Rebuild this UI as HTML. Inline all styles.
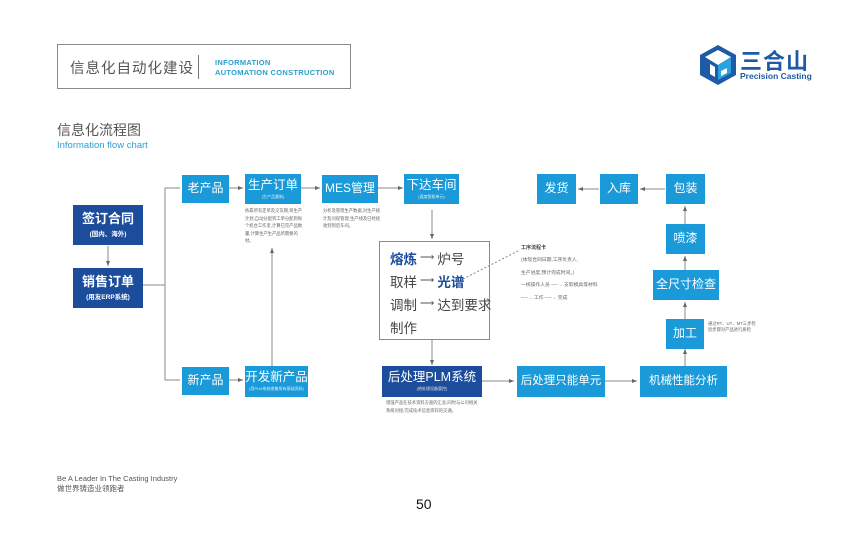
<!DOCTYPE html>
<html><head><meta charset="utf-8">
<style>
*{margin:0;padding:0;box-sizing:border-box}
body{width:850px;height:538px;background:#fff;position:relative;overflow:hidden;font-family:"Liberation Sans","Noto Sans CJK SC",sans-serif}
.a{position:absolute}
.b{position:absolute;background:#1a9ad9;color:#fff;display:flex;flex-direction:column;align-items:center;justify-content:center;text-align:center;line-height:1.1;white-space:nowrap}
.d{background:#1b4d9c}
.s{font-size:4px;opacity:.85;margin-top:2px}
.t{position:absolute;font-size:4.3px;color:#666;line-height:7.5px}
.ln{height:23px;display:flex;align-items:center;white-space:nowrap}
.ar{font-size:10px;color:#555;margin:0 3px}
</style></head><body>
<div class="a" style="left:57px;top:44px;width:294px;height:45px;border:1.5px solid #8a8a8a"></div>
<div class="a" style="left:70px;top:57px;font-size:14.5px;color:#555;letter-spacing:1px">信息化自动化建设</div>
<div class="a" style="left:198px;top:55px;width:1px;height:24px;background:#777"></div>
<div class="a" style="left:215px;top:58px;font-size:7.5px;color:#2a9fcc;font-weight:bold;line-height:10px;letter-spacing:.3px">INFORMATION<br>AUTOMATION CONSTRUCTION</div>

<svg class="a" style="left:698px;top:44px" width="40" height="42" viewBox="0 0 40 42">
<polygon points="20,1 38,11 38,31 20,41 2,31 2,11" fill="#1f5aa6"/>
<polygon points="20,6 33,13 20,21 7,13" fill="#fff"/>
<polygon points="20,21 33,13 33,29 20,36" fill="#29a2de"/>
<polygon points="12,20 17,23 17,33 12,30" fill="#fff"/>
<polygon points="23,27 29,24 29,29 23,32" fill="#fff"/>
</svg>
<div class="a" style="left:740px;top:44px;font-size:22px;color:#1f5aa6;font-weight:bold;letter-spacing:1px">三合山</div>
<div class="a" style="left:740px;top:71px;font-size:8.5px;color:#1f5aa6;font-weight:bold">Precision Casting</div>

<div class="a" style="left:57px;top:120px;font-size:14px;color:#555">信息化流程图</div>
<div class="a" style="left:57px;top:140px;font-size:9.5px;color:#2a9fd6">Information flow chart</div>

<svg class="a" style="left:0;top:0" width="850" height="538">
<defs><marker id="m" markerWidth="6" markerHeight="6" refX="5" refY="3" orient="auto"><path d="M0,1 L5,3 L0,5z" fill="#666"/></marker></defs>
<g stroke="#888" stroke-width="1" fill="none">
<line x1="108" y1="246" x2="108" y2="266" marker-end="url(#m)"/>
<polyline points="143,285 165,285"/>
<polyline points="180,188 165,188 165,380 180,380"/>
<line x1="229" y1="188" x2="243" y2="188" marker-end="url(#m)"/>
<line x1="229" y1="380" x2="243" y2="380" marker-end="url(#m)"/>
<line x1="301" y1="188" x2="320" y2="188" marker-end="url(#m)"/>
<line x1="378" y1="188" x2="403" y2="188" marker-end="url(#m)"/>
<line x1="432" y1="210" x2="432" y2="239" marker-end="url(#m)"/>
<line x1="272" y1="366" x2="272" y2="248" marker-end="url(#m)"/>
<line x1="432" y1="340" x2="432" y2="365" marker-end="url(#m)"/>
<line x1="482" y1="381" x2="514" y2="381" marker-end="url(#m)"/>
<line x1="605" y1="381" x2="637" y2="381" marker-end="url(#m)"/>
<line x1="685" y1="366" x2="685" y2="349" marker-end="url(#m)"/>
<line x1="685" y1="319" x2="685" y2="302" marker-end="url(#m)"/>
<line x1="685" y1="270" x2="685" y2="256" marker-end="url(#m)"/>
<line x1="685" y1="224" x2="685" y2="206" marker-end="url(#m)"/>
<line x1="665" y1="189" x2="640" y2="189" marker-end="url(#m)"/>
<line x1="599" y1="189" x2="578" y2="189" marker-end="url(#m)"/>
<line x1="463" y1="279" x2="518" y2="251" stroke-dasharray="2,2"/>
</g>
</svg>

<div class="b d" style="left:73px;top:205px;width:70px;height:40px"><div style="font-size:13px;font-weight:bold">签订合同</div><div style="font-size:6.5px;margin-top:4px;font-weight:bold">(国内、海外)</div></div>
<div class="b d" style="left:73px;top:268px;width:70px;height:40px"><div style="font-size:13px;font-weight:bold">销售订单</div><div style="font-size:6.5px;margin-top:4px;font-weight:bold">(用友ERP系统)</div></div>

<div class="b" style="left:182px;top:175px;width:47px;height:28px;font-size:12px">老产品</div>
<div class="b" style="left:245px;top:174px;width:56px;height:30px"><div style="font-size:12.5px">生产订单</div><div class="s">(生产品重新)</div></div>
<div class="b" style="left:322px;top:175px;width:56px;height:28px;font-size:12px">MES管理</div>
<div class="b" style="left:404px;top:174px;width:55px;height:30px"><div style="font-size:12.5px">下达车间</div><div class="s">(速度智能单元)</div></div>

<div class="t" style="left:245px;top:207px;width:58px">依靠所有定单及交货期,将生产计划,自动分配到工单分配到每个机台工作里,计算已完产品数量,计算生产生产品所需要的材。</div>
<div class="t" style="left:323px;top:207px;width:60px">分析及管理生产数据,对生产统计及问程管理,生产线及已经接收到到后车间。</div>

<div class="a" style="left:379px;top:241px;width:111px;height:99px;border:1.5px solid #7f8c9c"></div>
<div class="a" style="left:390px;top:246px;font-size:13.5px;color:#444">
<div class="ln"><b style="color:#1b4d9c">熔炼</b><span class="ar">⟶</span>炉号</div>
<div class="ln">取样<span class="ar">⟶</span><b style="color:#1b4d9c">光谱</b></div>
<div class="ln">调制<span class="ar">⟶</span>达到要求</div>
<div class="ln">制作</div>
</div>

<div class="a" style="left:521px;top:244px;font-size:5px;color:#444;font-weight:bold">工序流程卡</div>
<div class="t" style="left:521px;top:255px;font-size:4.8px;line-height:12.5px;white-space:nowrap">(体现合同日期,工序负责人,<br>生产进度,预计完成时间。)<br>一线操作人员 ──→ 支取模具等材料<br>──→ 工作 ──→ 完成</div>

<div class="b" style="left:182px;top:367px;width:47px;height:28px;font-size:12px">新产品</div>
<div class="b" style="left:245px;top:366px;width:63px;height:31px"><div style="font-size:12.5px">开发新产品</div><div class="s">(用PLM系统收集所有基础资料)</div></div>
<div class="b d" style="left:382px;top:366px;width:100px;height:31px"><div style="font-size:12.5px">后处理PLM系统</div><div class="s">(热处理设备管控)</div></div>
<div class="t" style="left:386px;top:399px;width:95px">增强产品在技术资料方面的汇总,同时与公司相关系统对接,完成技术信息资料的交通。</div>

<div class="b" style="left:517px;top:366px;width:88px;height:31px;font-size:11.5px">后处理只能单元</div>
<div class="b" style="left:640px;top:366px;width:87px;height:31px;font-size:11.5px">机械性能分析</div>
<div class="b" style="left:666px;top:319px;width:38px;height:30px;font-size:12px">加工</div>
<div class="t" style="left:708px;top:321px;white-space:nowrap;line-height:6px">通过RT、UT、MT三步检<br>验步骤对产品进行质检</div>
<div class="b" style="left:653px;top:270px;width:66px;height:30px;font-size:12px">全尺寸检查</div>
<div class="b" style="left:666px;top:224px;width:39px;height:30px;font-size:12px">喷漆</div>
<div class="b" style="left:666px;top:174px;width:39px;height:30px;font-size:12px">包装</div>
<div class="b" style="left:600px;top:174px;width:38px;height:30px;font-size:12px">入库</div>
<div class="b" style="left:537px;top:174px;width:39px;height:30px;font-size:12px">发货</div>

<div class="a" style="left:57px;top:474px;font-size:7.5px;color:#555;line-height:10px">Be A Leader In The Casting Industry<br>做世界铸造业领跑者</div>
<div class="a" style="left:416px;top:496px;font-size:14px;color:#111">50</div>
</body></html>
